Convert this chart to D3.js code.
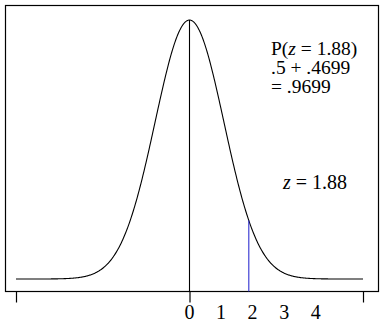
<!DOCTYPE html>
<html>
<head>
<meta charset="utf-8">
<script src="https://cdn.jsdelivr.net/npm/d3@7"></script>
</head>
<body style="margin:0">
<div class="chart"></div>
<script>
// chart data
const zDomain = [-5.5, 5.5];         // horizontal extent of the plot
const endTicks = [-5.5, 0, 5.5];     // tick marks below the frame
const tickLabels = [0, 1, 2, 3, 4];  // numbers printed under the axis
const zValue = 1.88;                 // marked z score
const spread = 1.09;                 // width of the drawn bell curve
const noteLines = [
  "P(<tspan font-style='italic'>z</tspan> = 1.88)",
  ".5 + .4699",
  "= .9699"
];

const width = 384, height = 325;

const svg = d3.select(".chart")
  .append("svg")
  .attr("width", width)
  .attr("height", height);

// scales
const x = d3.scaleLinear().domain(zDomain).range([16, 363]);
const pdf = z => Math.exp(-0.5 * (z / spread) ** 2) / (spread * Math.sqrt(2 * Math.PI));
const y = d3.scaleLinear().domain([0, pdf(0)]).range([279, 20]);

// frame
svg.append("rect")
  .attr("x", 5.5).attr("y", 5.5)
  .attr("width", 373).attr("height", 286)
  .attr("fill", "none").attr("stroke", "#000").attr("stroke-width", 1.2);

// bell curve
const pts = d3.range(zDomain[0], zDomain[1] + 0.001, 0.02).map(z => [z, pdf(z)]);
svg.append("path")
  .datum(pts)
  .attr("fill", "none")
  .attr("stroke", "#000")
  .attr("stroke-width", 1.1)
  .attr("d", d3.line().x(d => x(d[0])).y(d => y(d[1])));

// line at the mean
svg.append("line")
  .attr("x1", x(0)).attr("x2", x(0))
  .attr("y1", y(pdf(0))).attr("y2", 291.5)
  .attr("stroke", "#000").attr("stroke-width", 1.1);

// line at z
svg.append("line")
  .attr("x1", x(zValue)).attr("x2", x(zValue))
  .attr("y1", y(pdf(zValue))).attr("y2", 291.5)
  .attr("stroke", "#2f2fd0").attr("stroke-width", 1.1);

// axis ticks (no labels)
const axis = svg.append("g")
  .attr("transform", "translate(0,291.5)")
  .call(d3.axisBottom(x).tickValues(endTicks).tickSize(11).tickFormat(""));
axis.select(".domain").remove();
axis.selectAll("line").attr("stroke", "#000").attr("stroke-width", 1.2);

// axis numbers
tickLabels.forEach(d => {
  svg.append("text")
    .attr("x", x(d))
    .attr("y", 319)
    .attr("text-anchor", "middle")
    .style("font-family", "Liberation Serif")
    .style("font-size", "20px")
    .html(d);
});

// probability note
noteLines.forEach((t, i) => {
  svg.append("text")
    .attr("x", 271)
    .attr("y", 55 + i * 19)
    .style("font-family", "Liberation Serif")
    .style("font-size", "19.5px")
    .html(t);
});

// z label
svg.append("text")
  .attr("x", 283)
  .attr("y", 189)
  .style("font-family", "Liberation Serif")
  .style("font-size", "20px")
  .html("<tspan font-style='italic'>z</tspan> = " + zValue);
</script>
</body>
</html>
